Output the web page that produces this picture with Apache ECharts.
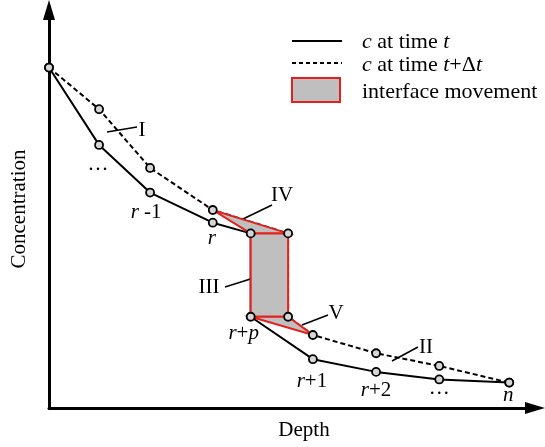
<!DOCTYPE html>
<html><head><meta charset="utf-8">
<script src="https://cdn.jsdelivr.net/npm/echarts@6/dist/echarts.min.js"></script>
<style>html,body{margin:0;padding:0;background:#fff}#c{width:545px;height:447px}</style>
</head><body><div id="c"></div>
<script>
// ---- data (arbitrary units: depth and concentration) ----
const depthT  = [0, 10.3, 20.8, 33.7, 41.5, 41.5, 54.3, 67.3, 80.3, 94.7];
const concT   = [85.8, 66.3, 54.3, 46.7, 44.0, 23.0, 12.3, 9.1, 7.2, 6.4];
const depthDt = [0, 10.3, 20.8, 33.7, 49.2, 49.2, 54.3, 67.3, 80.3, 94.7];
const concDt  = [85.8, 75.3, 60.5, 49.9, 44.0, 23.0, 18.4, 13.8, 10.6, 6.4];
const nodeLabelsT = ['', '…', '{i|r} -1', '{i|r}', '', '{i|r}+{i|p}', '{i|r}+1', '{i|r}+2', '…', '{i|n}'];
const seriesNames = ['c at time t', 'c at time t+Δt', 'interface movement'];
const regionNames = ['IV', 'III', 'V'];
const depthMax = 100.0;
const concMax = 100.3;

// interface-movement regions built from the node arrays
const P = (d, c, i) => [d[i], c[i]];
const regions = [
  [P(depthDt, concDt, 3), P(depthT, concT, 4), P(depthDt, concDt, 4)],
  [P(depthT, concT, 4), P(depthDt, concDt, 4), P(depthDt, concDt, 5), P(depthT, concT, 5)],
  [P(depthT, concT, 5), P(depthDt, concDt, 5), P(depthDt, concDt, 6)]
];

// ---- layout / style ----
const FONT = 'Liberation Serif';
const FS = 21;
const labelOffsets = [null, [-1, 20], [-4, 20], [-1, 16], null, [-7, 17], [-1, 22], [0, 19], [0, 9], [-1, 13]];
const RED = '#e3201b', GRAY = '#bfbfbf';
const rich = { i: { fontStyle: 'italic', fontFamily: FONT, fontSize: FS, color: '#000', textBorderWidth: 0 } };
const richL = { i: { fontStyle: 'italic', fontFamily: FONT, fontSize: 22, fill: '#000' } };

const chart = echarts.init(document.getElementById('c'), null, { renderer: 'canvas' });

const markerStyle = { color: '#d6d6d6', borderColor: '#000', borderWidth: 1.8, opacity: 1 };
const axisLine = { show: true, onZero: false, symbol: ['none', 'triangle'], symbolSize: [12, 20], lineStyle: { color: '#000', width: 3 } };

const option = {
  animation: false,
  backgroundColor: '#fff',
  grid: { left: 49, right: 10, top: 10, bottom: 39 },
  xAxis: {
    type: 'value', min: 0, max: depthMax,
    axisLine: axisLine,
    axisTick: { show: false }, axisLabel: { show: false }, splitLine: { show: false },
    name: 'Depth', nameLocation: 'middle', nameGap: 12,
    nameTextStyle: { fontFamily: FONT, fontSize: FS, color: '#000', padding: [0, 0, 0, 24] }
  },
  yAxis: {
    type: 'value', min: 0, max: concMax,
    axisLine: axisLine,
    axisTick: { show: false }, axisLabel: { show: false }, splitLine: { show: false },
    name: 'Concentration', nameLocation: 'middle', nameGap: 19, nameRotate: 90,
    nameTextStyle: { fontFamily: FONT, fontSize: FS, color: '#000' }
  },
  series: [
    {
      name: seriesNames[0], type: 'line', z: 2, showSymbol: false, symbol: 'none',
      data: depthT.map((x, i) => [x, concT[i]]),
      lineStyle: { color: '#000', width: 2 }
    },
    {
      name: seriesNames[1], type: 'line', z: 2, showSymbol: false, symbol: 'none',
      data: depthDt.map((x, i) => [x, concDt[i]]),
      lineStyle: { color: '#000', width: 2, type: [5, 3] }
    },
    {
      name: seriesNames[2], type: 'custom', z: 3,
      data: regions.map((r, k) => [r[0][0], r[0][1], k]),
      renderItem: function (params, api) {
        const poly = regions[params.dataIndex].map(p => api.coord(p));
        return {
          type: 'polygon',
          shape: { points: poly },
          style: { fill: GRAY, stroke: RED, lineWidth: 2, lineJoin: 'miter' }
        };
      }
    },
    {
      type: 'scatter', z: 5, symbol: 'circle', symbolSize: 8,
      itemStyle: markerStyle,
      data: depthDt.map((x, i) => [x, concDt[i]])
    },
    {
      type: 'scatter', z: 6, symbol: 'circle', symbolSize: 8,
      itemStyle: markerStyle,
      data: depthT.map((x, i) => ({
        value: [x, concT[i]],
        label: {
          show: !!nodeLabelsT[i],
          position: 'inside',
          offset: labelOffsets[i] || [0, 0],
          formatter: () => nodeLabelsT[i],
          fontFamily: FONT, fontSize: FS, color: '#000', opacity: 1,
          textBorderWidth: 0, textBorderColor: 'transparent', rich: rich
        }
      }))
    }
  ],
  graphic: [
    // legend
    { type: 'line', shape: { x1: 292, y1: 41, x2: 342, y2: 41 }, style: { stroke: '#000', lineWidth: 2 } },
    { type: 'line', shape: { x1: 292, y1: 63, x2: 342, y2: 63 }, style: { stroke: '#000', lineWidth: 2, lineDash: [4, 3] } },
    { type: 'rect', shape: { x: 292, y: 78, width: 48, height: 24 }, style: { fill: GRAY, stroke: RED, lineWidth: 2 } },
    { type: 'text', x: 362, y: 42, style: { text: '{i|c} at time {i|t}', rich: richL, font: '22px ' + FONT, fill: '#000', verticalAlign: 'middle' } },
    { type: 'text', x: 362, y: 65, style: { text: '{i|c} at time {i|t}+Δ{i|t}', rich: richL, font: '22px ' + FONT, fill: '#000', verticalAlign: 'middle' } },
    { type: 'text', x: 362, y: 92, style: { text: seriesNames[2], font: '22px ' + FONT, fill: '#000', verticalAlign: 'middle' } },
    // region annotations
    { type: 'line', shape: { x1: 107, y1: 132, x2: 137, y2: 127 }, style: { stroke: '#000', lineWidth: 1.5 } },
    { type: 'text', x: 142, y: 130, style: { text: 'I', font: FS + 'px ' + FONT, fill: '#000', align: 'center', verticalAlign: 'middle' } },
    { type: 'line', shape: { x1: 392, y1: 361, x2: 418, y2: 347 }, style: { stroke: '#000', lineWidth: 1.5 } },
    { type: 'text', x: 426, y: 347, style: { text: 'II', font: FS + 'px ' + FONT, fill: '#000', align: 'center', verticalAlign: 'middle' } },
    { type: 'line', shape: { x1: 225, y1: 287, x2: 260, y2: 276 }, style: { stroke: '#000', lineWidth: 1.5 } },
    { type: 'text', x: 209, y: 287, style: { text: regionNames[1], font: FS + 'px ' + FONT, fill: '#000', align: 'center', verticalAlign: 'middle' } },
    { type: 'line', shape: { x1: 243, y1: 219, x2: 272, y2: 205 }, style: { stroke: '#000', lineWidth: 1.5 } },
    { type: 'text', x: 282, y: 195, style: { text: regionNames[0], font: FS + 'px ' + FONT, fill: '#000', align: 'center', verticalAlign: 'middle' } },
    { type: 'line', shape: { x1: 302, y1: 325, x2: 328, y2: 315 }, style: { stroke: '#000', lineWidth: 1.5 } },
    { type: 'text', x: 336, y: 313, style: { text: regionNames[2], font: FS + 'px ' + FONT, fill: '#000', align: 'center', verticalAlign: 'middle' } }
  ]
};
chart.setOption(option);
</script>
</body></html>
